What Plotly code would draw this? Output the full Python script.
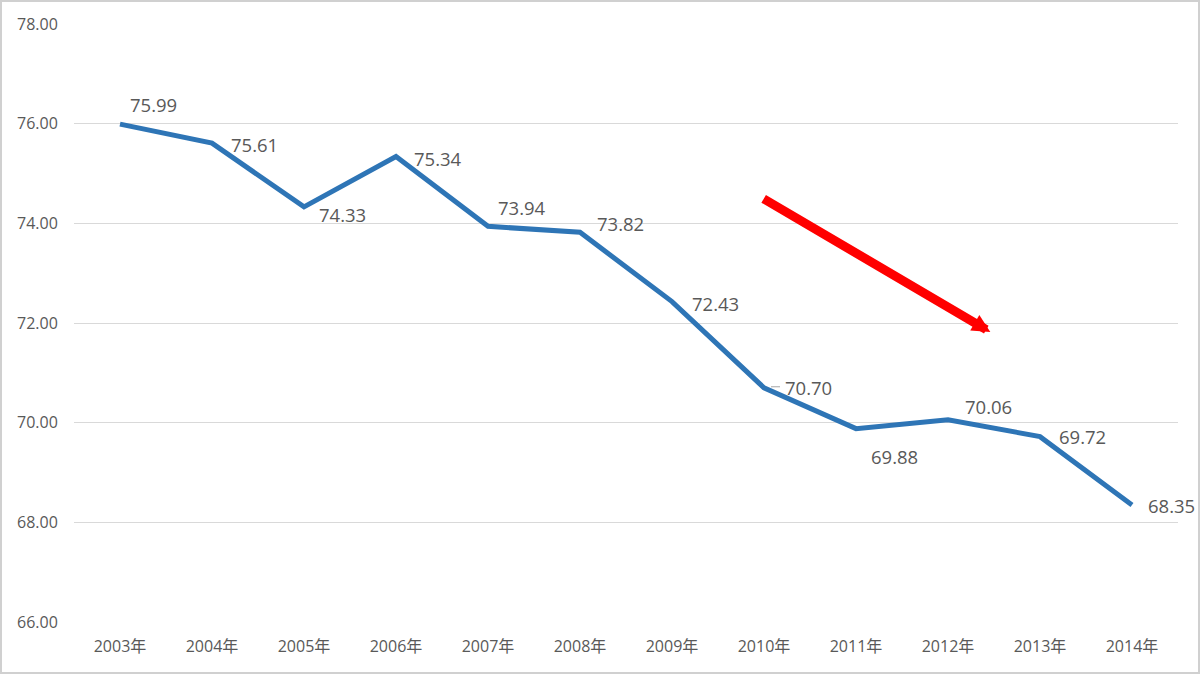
import plotly.graph_objects as go

years = ["2003年", "2004年", "2005年", "2006年", "2007年", "2008年",
         "2009年", "2010年", "2011年", "2012年", "2013年", "2014年"]
values = [75.99, 75.61, 74.33, 75.34, 73.94, 73.82,
          72.43, 70.70, 69.88, 70.06, 69.72, 68.35]
y_ticks = [66, 68, 70, 72, 74, 76, 78]
y_tick_text = ["66.00", "68.00", "70.00", "72.00", "74.00", "76.00", "78.00"]
# label pixel offsets (dx, dy) relative to each point
label_offsets = [(33, -20), (42, 1), (38, 8), (42, 2), (34, -19), (40, -9),
                 (43, 2), (44, 0), (38, 28), (40, -13), (42, 0), (39, 1)]

idx = list(range(len(years)))

fig = go.Figure()
fig.add_trace(go.Scatter(
    x=idx, y=values, mode="lines",
    line=dict(color="#2E75B6", width=5),
    hoverinfo="skip", showlegend=False,
))

FAM = "Open Sans, Noto Sans CJK JP, sans-serif"
font_lbl = dict(family=FAM, size=18.5, color="#595959")
for i, (v, (dx, dy)) in enumerate(zip(values, label_offsets)):
    fig.add_annotation(x=i, y=v, xref="x", yref="y", text=f"{v:.2f}",
                       showarrow=False, xshift=dx, yshift=-dy, font=font_lbl)

# leader line for 70.70
fig.add_shape(type="line", xref="x", yref="y", x0=7 + 7/92, x1=7 + 16/92,
              y0=values[7] + 1/49.8, y1=values[7] + 1/49.8,
              line=dict(color="#A6A6A6", width=1))

# red trend arrow
fig.add_annotation(x=9.46, y=71.82, ax=6.98, ay=74.51, xref="x", yref="y",
                   axref="x", ayref="y", text="", showarrow=True,
                   arrowhead=2, arrowsize=0.4, arrowwidth=9, arrowcolor="#FF0000")

# outer border
W, H = 1104, 598
fig.add_shape(type="rect", xref="paper", yref="paper",
              x0=-74/W + 1/W, x1=1 + 22/W - 1/W, y0=-53/H + 2/H, y1=1 + 24/H - 1/H,
              line=dict(color="#D0D0D0", width=2), fillcolor="rgba(0,0,0,0)", layer="below")

fig.update_layout(
    width=1200, height=675,
    margin=dict(l=74, r=22, t=24, b=53),
    paper_bgcolor="white", plot_bgcolor="white",
    xaxis=dict(range=[-0.5, 11.5], tickvals=idx, ticktext=years,
               showgrid=False, zeroline=False, showline=False,
               ticks="outside", ticklen=10, tickcolor="rgba(0,0,0,0)",
               tickfont=dict(family=FAM, size=16, color="#595959")),
    yaxis=dict(range=[66, 78], tickvals=y_ticks, ticktext=y_tick_text,
               showgrid=True, gridcolor="#D9D9D9", gridwidth=1,
               zeroline=False, showline=False,
               ticks="outside", ticklen=12, tickcolor="rgba(0,0,0,0)",
               tickfont=dict(family=FAM, size=16, color="#595959")),
)

fig.write_html("out.html")
